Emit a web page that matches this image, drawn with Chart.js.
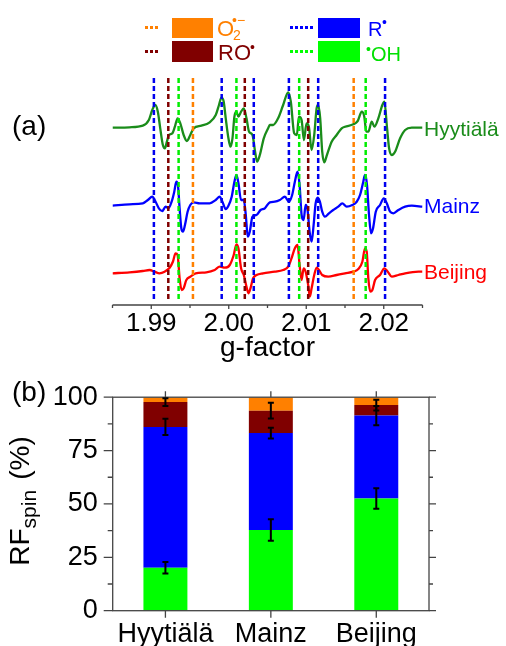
<!DOCTYPE html>
<html>
<head>
<meta charset="utf-8">
<title>EPR spectra and radical spin fractions</title>
<script src="https://cdn.jsdelivr.net/npm/chart.js"></script>
<style>
  body { margin: 0; background: #fff; font-family: "Liberation Sans", Arial, sans-serif; }
  #wrap { position: relative; width: 506px; height: 646px; overflow: hidden; }
  canvas { position: absolute; left: 0; }
  #specCanvas { top: 0; }
  #barCanvas { top: 366px; }
  .lbl { position: absolute; white-space: nowrap; line-height: 1; }
  .dots { position: absolute; height: 3px; width: 13px; }
  .box { position: absolute; width: 41px; height: 20px; }
</style>
</head>
<body>
<div id="wrap">
  <canvas id="specCanvas" width="506" height="365"></canvas>
  <canvas id="barCanvas" width="506" height="280"></canvas>

  <!-- legend (a) -->
  <div class="dots" style="left:145px; top:26px; background:repeating-linear-gradient(90deg,#ff8000 0 3px,transparent 3px 5px);"></div>
  <div class="box" style="left:172px; top:18px; background:#ff8000;"></div>
  <div class="lbl" style="left:217px; top:18.4px; font-size:22px; color:#ff8000;">O</div>
  <div class="lbl" style="left:233px; top:28px; font-size:14px; color:#ff8000;">2</div>
  <div class="lbl" style="left:232px; top:13px; font-size:14px; color:#ff8000;">•−</div>

  <div class="dots" style="left:145px; top:50px; background:repeating-linear-gradient(90deg,#800000 0 3px,transparent 3px 5px);"></div>
  <div class="box" style="left:172px; top:41px; height:21px; background:#800000;"></div>
  <div class="lbl" style="left:218px; top:42.4px; font-size:22px; color:#800000;">RO</div>
  <div class="lbl" style="left:250px; top:40px; font-size:14px; color:#800000;">•</div>

  <div class="dots" style="left:290px; top:26px; width:23px; background:repeating-linear-gradient(90deg,#0000ff 0 3px,transparent 3px 5px);"></div>
  <div class="box" style="left:318px; top:18px; width:42px; background:#0000ff;"></div>
  <div class="lbl" style="left:368px; top:19px; font-size:20px; color:#0000ff;">R</div>
  <div class="lbl" style="left:382px; top:15px; font-size:14px; color:#0000ff;">•</div>

  <div class="dots" style="left:290px; top:50px; width:23px; background:repeating-linear-gradient(90deg,#00ff00 0 3px,transparent 3px 5px);"></div>
  <div class="box" style="left:318px; top:41px; width:42px; height:21px; background:#00ff00;"></div>
  <div class="lbl" style="left:366px; top:42px; font-size:14px; color:#00e000;">•</div>
  <div class="lbl" style="left:371px; top:44px; font-size:20px; color:#00e000;">OH</div>

  <!-- panel labels -->
  <div class="lbl" style="left:12px; top:112px; font-size:28px;">(a)</div>
  <div class="lbl" style="left:12px; top:378px; font-size:28px;">(b)</div>

  <div class="lbl" style="left:424px; top:118px; font-size:21px; color:#1a8c1a;">Hyytiälä</div>
  <div class="lbl" style="left:424px; top:195px; font-size:21px; color:#0000ff;">Mainz</div>
  <div class="lbl" style="left:424px; top:261px; font-size:21px; color:#ff0000;">Beijing</div>

  <div class="lbl" style="left:21px; top:501px; font-size:28px; line-height:28px; transform:translate(-50%,-50%) rotate(-90deg);">RF<span style="font-size:21px; position:relative; top:7px;">spin</span><span style="margin-left:10px;">(%)</span></div>
</div>

<script>
  // ---- (a) EPR spectra: g-factor vs. signal (a.u.) ----
  const hyytialaG = [1.98500, 1.98719, 1.98891, 1.98969, 1.99013, 1.99052, 1.99085, 1.99116, 1.99150, 1.99176,
                     1.99202, 1.99228, 1.99272, 1.99305, 1.99340, 1.99375, 1.99418, 1.99460, 1.99504, 1.99547,
                     1.99647, 1.99754, 1.99832, 1.99874, 1.99905, 1.99935, 1.99961, 1.99996, 2.00022, 2.00048,
                     2.00073, 2.00099, 2.00125, 2.00159, 2.00194, 2.00229, 2.00262, 2.00306, 2.00340, 2.00366,
                     2.00401, 2.00452, 2.00508, 2.00530, 2.00573, 2.00637, 2.00702, 2.00767, 2.00801, 2.00844,
                     2.00879, 2.00905, 2.00940, 2.00970, 2.01004, 2.01034, 2.01069, 2.01103, 2.01134, 2.01154,
                     2.01180, 2.01206, 2.01232, 2.01267, 2.01328, 2.01392, 2.01457, 2.01500, 2.01607, 2.01664,
                     2.01716, 2.01749, 2.01775, 2.01801, 2.01845, 2.01879, 2.01930, 2.01982, 2.02008, 2.02043,
                     2.02069, 2.02104, 2.02146, 2.02211, 2.02276, 2.02362, 2.02500];
  const hyytialaI = [0, 0.4, 2, 7.7, 17.7, 22.7, 16, -0.6, -17.3, -20.6,
                     -14, -7.3, -5.6, 1, 9.4, 4.4, -7.3, -13.3, -7.3, -0.6,
                     2, 5.4, 12.7, 22.7, 30, 26, 9.4, -10.6, -19, -10.6,
                     11, 16, 11, 16, 19.4, 9.4, -4, -7.3, -24, -34,
                     -27.3, -10.6, -0.6, 2.7, 2.7, 9.4, 22.7, 35.4, 26, -5.6,
                     -7.3, 11, 7.7, -12.3, 4.4, 1, -22.3, -7.3, 19.4, 22.7,
                     9.4, -24, -34.6, -27.3, -14, -7.3, -0.6, 1, 3.4, 6.7,
                     16, 11, -4, -4, 6, 1, 9.4, 22.7, 26, -0.6,
                     -20.6, -27.3, -24, -10.6, -2.3, 0, 0];

  const mainzG = [1.98500, 1.98719, 1.98891, 1.98956, 1.99013, 1.99056, 1.99098, 1.99142, 1.99185, 1.99220,
                  1.99263, 1.99297, 1.99323, 1.99344, 1.99366, 1.99388, 1.99409, 1.99435, 1.99469, 1.99504,
                  1.99547, 1.99625, 1.99754, 1.99832, 1.99883, 1.99918, 1.99961, 1.99996, 2.00038, 2.00073,
                  2.00099, 2.00125, 2.00159, 2.00194, 2.00220, 2.00245, 2.00271, 2.00306, 2.00358, 2.00410,
                  2.00465, 2.00530, 2.00595, 2.00659, 2.00724, 2.00776, 2.00818, 2.00853, 2.00888, 2.00914,
                  2.00940, 2.00966, 2.00992, 2.01017, 2.01043, 2.01069, 2.01095, 2.01121, 2.01147, 2.01176,
                  2.01206, 2.01241, 2.01293, 2.01348, 2.01413, 2.01465, 2.01522, 2.01594, 2.01651, 2.01694,
                  2.01736, 2.01758, 2.01784, 2.01810, 2.01836, 2.01862, 2.01897, 2.01952, 2.02000, 2.02039,
                  2.02082, 2.02124, 2.02189, 2.02276, 2.02362, 2.02500];
  const mainzI = [0, 1.4, 2.4, 5.7, 9, 4, -2.6, -5.3, -1, -2.6,
                  4, 14, 24, 20.7, -2.6, -22.6, -26, -19.3, -6, 0.7,
                  3.4, 2.4, 2.4, 5.7, 9, 4, -3.3, 0, 9, 24,
                  30.7, 22.4, 5.7, 5.7, -9.3, -31, -26, -11, -9.3, -4.3,
                  -2.6, 3.4, 4, 5.7, 9, 4, 10.7, 24, 34, 20.7,
                  -9.3, -14.3, 0.7, -4.3, -26, -36, -19.3, 2.4, 8, 4,
                  -6, -11, -7.6, -4.3, -1, 2.4, -1, 0.7, 4, 10.7,
                  24, 30.7, 20.7, -9.3, -27.6, -22.6, -6, 0.7, 7.4, 2.4,
                  -6, -7.6, -4.3, -1, 0, -1];

  const beijingG = [1.98500, 1.98719, 1.98891, 1.98978, 1.99043, 1.99107, 1.99172, 1.99237, 1.99279, 1.99314,
                    1.99340, 1.99366, 1.99392, 1.99418, 1.99453, 1.99504, 1.99573, 1.99711, 1.99819, 1.99883,
                    1.99948, 2.00013, 2.00064, 2.00099, 2.00125, 2.00159, 2.00194, 2.00229, 2.00254, 2.00280,
                    2.00314, 2.00358, 2.00443, 2.00595, 2.00702, 2.00767, 2.00810, 2.00853, 2.00888, 2.00914,
                    2.00940, 2.00966, 2.00992, 2.01025, 2.01047, 2.01069, 2.01103, 2.01134, 2.01164, 2.01206,
                    2.01284, 2.01392, 2.01500, 2.01607, 2.01672, 2.01724, 2.01758, 2.01780, 2.01801, 2.01827,
                    2.01853, 2.01888, 2.01952, 2.02008, 2.02052, 2.02104, 2.02189, 2.02276, 2.02448, 2.02500];
  const beijingI = [0, 1, 2.3, 3.3, 1.6, 0, 1.6, 5.6, 11.6, 20,
                    18.3, -5, -16.7, -15, -6.7, -3.4, 0, 1, 3.3, 6.6,
                    5.6, 8.3, 18.3, 29, 25, 5, -1.7, -13.4, -20, -15,
                    -5, -1.7, 0, 1.6, 3.3, 6.6, 15, 25, 28.3, 8.3,
                    -6.7, 5, 1.6, -11.7, -23.4, -15, -1.7, 5.6, 3.3, -1.7,
                    -3.4, -1.7, 0, 1.6, 4.3, 11.6, 25, 21.6, -5, -18.4,
                    -16.7, -6.7, -1.7, 5, 1.6, -3.4, -1.7, 0, 1.6, 1.6];

  // vertical offsets used to stack the three spectra
  const traceOffsets = [177.3, 99.3, 31.7];

  // g-factor positions of the radical marker lines
  const markersR  = [1.99034, 1.99909, 2.00323, 2.00776, 2.01154, 2.02017];
  const markersRO = [1.99220, 2.00207, 2.01025];
  const markersOH = [1.99353, 2.00099, 2.00909, 2.01767];
  const markersO2 = [1.99538, 2.01612];

  const gTickLabels = [1.99, 2.00, 2.01, 2.02];

  // ---- (b) relative spin fractions (%) ----
  const sites = ['Hyytiälä', 'Mainz', 'Beijing'];
  const fracOH = [20.1, 37.8, 52.5];
  const fracR  = [66.0, 45.4, 38.9];
  const fracRO = [11.6, 10.5, 4.9];
  const fracO2 = [2.3, 6.3, 3.7];
  const errOH = [2.7, 5.0, 4.8];
  const errR  = [3.8, 2.5, 4.5];
  const errRO = [1.8, 3.7, 2.5];
  const yTickValues = [0, 25, 50, 75, 100];

  const FONT = '"Liberation Sans", Arial, sans-serif';
  const AXIS_COLOR = '#444';

  function pairs(g, v, off) {
    return g.map((x, i) => ({ x: x, y: v[i] + off }));
  }

  // radical marker lines + bottom axis of panel (a)
  const spectraDecor = {
    id: 'spectraDecor',
    afterDatasetsDraw(chart) {
      const { ctx, chartArea: a, scales: { x } } = chart;
      const sets = [
        { g: markersR, color: '#0000ee' },
        { g: markersRO, color: '#800000' },
        { g: markersOH, color: '#00ee00' },
        { g: markersO2, color: '#ff8000' }
      ];
      ctx.save();
      ctx.lineWidth = 2.5;
      ctx.setLineDash([5, 3]);
      sets.forEach(s => {
        ctx.strokeStyle = s.color;
        s.g.forEach(g => {
          const px = x.getPixelForValue(g);
          ctx.beginPath();
          ctx.moveTo(px, a.top + 3);
          ctx.lineTo(px, a.bottom - 5);
          ctx.stroke();
        });
      });
      ctx.setLineDash([]);
      ctx.strokeStyle = AXIS_COLOR;
      ctx.lineWidth = 1.3;
      ctx.beginPath();
      ctx.moveTo(a.left, a.bottom);
      ctx.lineTo(a.right, a.bottom);
      for (let k = 0; k <= 8; k++) {
        const v = x.min + k * 0.005;
        const px = x.getPixelForValue(v);
        ctx.moveTo(px, a.bottom);
        ctx.lineTo(px, a.bottom + (k % 2 === 1 ? 4 : 3));
      }
      ctx.stroke();
      ctx.restore();
    }
  };

  new Chart(document.getElementById('specCanvas'), {
    type: 'line',
    data: {
      datasets: [
        { data: pairs(hyytialaG, hyytialaI, traceOffsets[0]), borderColor: '#1a8c1a' },
        { data: pairs(mainzG, mainzI, traceOffsets[1]), borderColor: '#0000ff' },
        { data: pairs(beijingG, beijingI, traceOffsets[2]), borderColor: '#ff0000' }
      ].map(d => Object.assign(d, { borderWidth: 2.3, pointRadius: 0, cubicInterpolationMode: 'monotone', fill: false }))
    },
    options: {
      responsive: false,
      animation: false,
      events: [],
      layout: { padding: { left: 112.5, right: 83.5, top: 75, bottom: 0 } },
      plugins: { legend: { display: false }, tooltip: { enabled: false } },
      scales: {
        x: {
          type: 'linear', min: 1.985, max: 2.025,
          grid: { display: false, drawTicks: false },
          border: { display: false },
          afterBuildTicks: s => { s.ticks = gTickLabels.map(v => ({ value: v })); },
          ticks: { callback: v => v.toFixed(2), color: '#000', font: { family: FONT, size: 26 }, padding: 3, maxRotation: 0, autoSkip: false },
          title: { display: true, text: 'g-factor', color: '#000', font: { family: FONT, size: 28 }, padding: 0 },
          afterFit: s => { s.height = 60; }
        },
        y: { display: false, min: 0, max: 230 }
      }
    },
    plugins: [spectraDecor]
  });

  // frame, ticks and error bars of panel (b)
  const barDecor = {
    id: 'barDecor',
    afterDatasetsDraw(chart) {
      const { ctx, chartArea: a, scales: { x, y } } = chart;
      ctx.save();
      ctx.strokeStyle = AXIS_COLOR;
      ctx.lineWidth = 1.3;
      ctx.strokeRect(a.left, a.top, a.right - a.left, a.bottom - a.top);
      ctx.beginPath();
      for (let k = 0; k <= 8; k++) {
        const p = y.getPixelForValue(k * 12.5);
        const major = k % 2 === 0;
        ctx.moveTo(a.left - (major ? 9 : 5), p); ctx.lineTo(a.left, p);
        ctx.moveTo(a.right, p); ctx.lineTo(a.right + (major ? 7 : 4), p);
      }
      sites.forEach((s, i) => {
        const p = x.getPixelForValue(i);
        ctx.moveTo(p, a.bottom); ctx.lineTo(p, a.bottom + 7);
        ctx.moveTo(p, a.top - 6); ctx.lineTo(p, a.top);
      });
      ctx.stroke();

      const segs = [fracOH, fracR, fracRO];
      const errs = [errOH, errR, errRO];
      ctx.strokeStyle = '#000';
      ctx.lineWidth = 2;
      sites.forEach((s, i) => {
        const px = x.getPixelForValue(i);
        let cum = 0;
        segs.forEach((seg, k) => {
          cum += seg[i];
          const y1 = y.getPixelForValue(cum - errs[k][i]);
          const y2 = y.getPixelForValue(cum + errs[k][i]);
          ctx.beginPath();
          ctx.moveTo(px, y1); ctx.lineTo(px, y2);
          ctx.moveTo(px - 3, y1); ctx.lineTo(px + 3, y1);
          ctx.moveTo(px - 3, y2); ctx.lineTo(px + 3, y2);
          ctx.stroke();
        });
      });
      ctx.restore();
    }
  };

  new Chart(document.getElementById('barCanvas'), {
    type: 'bar',
    data: {
      labels: sites,
      datasets: [
        { label: '•OH', data: fracOH, backgroundColor: '#00ff00' },
        { label: 'R•', data: fracR, backgroundColor: '#0000ff' },
        { label: 'RO•', data: fracRO, backgroundColor: '#800000' },
        { label: 'O2•−', data: fracO2, backgroundColor: '#ff8000' }
      ].map(d => Object.assign(d, { borderWidth: 0, categoryPercentage: 1, barPercentage: 0.417 }))
    },
    options: {
      responsive: false,
      animation: false,
      events: [],
      layout: { padding: { left: 0, right: 77, top: 26, bottom: 0 } },
      plugins: { legend: { display: false }, tooltip: { enabled: false } },
      scales: {
        x: {
          stacked: true,
          grid: { display: false, drawTicks: false },
          border: { display: false },
          ticks: { color: '#000', font: { family: FONT, size: 27 }, padding: 8, maxRotation: 0, autoSkip: false },
          afterFit: s => { s.height = 35.3; }
        },
        y: {
          stacked: true, min: 0, max: 100,
          grid: { display: false, drawTicks: false },
          border: { display: false },
          afterBuildTicks: s => { s.ticks = yTickValues.map(v => ({ value: v })); },
          ticks: { color: '#000', font: { family: FONT, size: 27 }, padding: 15 },
          afterFit: s => { s.width = 112.7; }
        }
      }
    },
    plugins: [barDecor]
  });
</script>
</body>
</html>
